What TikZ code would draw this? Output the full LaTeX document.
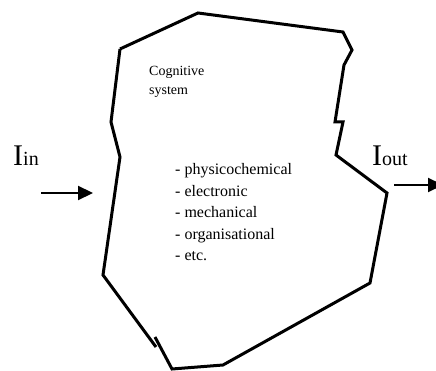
\documentclass[tikz,border=0pt]{standalone}
\usepackage{fontspec}
\setmainfont{Liberation Serif}
\usepackage{tikz}
\usetikzlibrary{arrows.meta}
\newcommand{\itemnode}[4]{\node[anchor=base west,inner sep=0pt] (#1) at ( #2 , #3 ) {\fontsize{16}{18}\selectfont #4};}
\newcommand{\titlnode}[4]{\node[anchor=base west,inner sep=0pt] (#1) at ( #2 , #3 ) {\fontsize{14}{16}\selectfont #4};}
\newcommand{\flownode}[4]{\node[anchor=base west,inner sep=0pt] (#1) at ( #2 , #3 ) {\fontsize{30}{32}\selectfont I\fontsize{20}{22}\selectfont #4};}

\begin{document}
\begin{tikzpicture}[x=1pt,y=-1pt]
        \useasboundingbox (0,0) rectangle (436,371);
        %outline
        \draw[line width=3pt,line join=miter] (120,49) -- (198,13) -- (343,32) -- (352,50) -- (344,65) -- (335,122) -- (343,122) -- (336,155) -- (387,193) -- (370,283) -- (223,365) -- (172,369) -- (155,337);
        \draw[line width=3pt,line join=miter] (120,49) -- (111,122) -- (120,157) -- (103,275) -- (156,347);
        %labels
        \titlnode{cog}{149}{76}{Cognitive}
        \titlnode{sys}{149}{95}{system}
        \itemnode{phys}{175}{175}{- physicochemical}
        \itemnode{elec}{175}{196.5}{- electronic}
        \itemnode{mech}{175}{218}{- mechanical}
        \itemnode{org}{175}{239.5}{- organisational}
        \itemnode{etc}{175}{261}{- etc.}
        \flownode{in}{13}{166}{in}
        \flownode{out}{372}{166}{out}
        %arrows
        \coordinate (inA) at (41,193);
        \coordinate (inB) at (93,193);
        \coordinate (outA) at (394,185);
        \coordinate (outB) at (443,185);
        \draw[line width=2.2pt,-{Triangle[length=15pt,width=14pt]}] (inA) -- (inB);
        \draw[line width=2.2pt,-{Triangle[length=15pt,width=14pt]}] (outA) -- (outB);
\end{tikzpicture}
\end{document}
